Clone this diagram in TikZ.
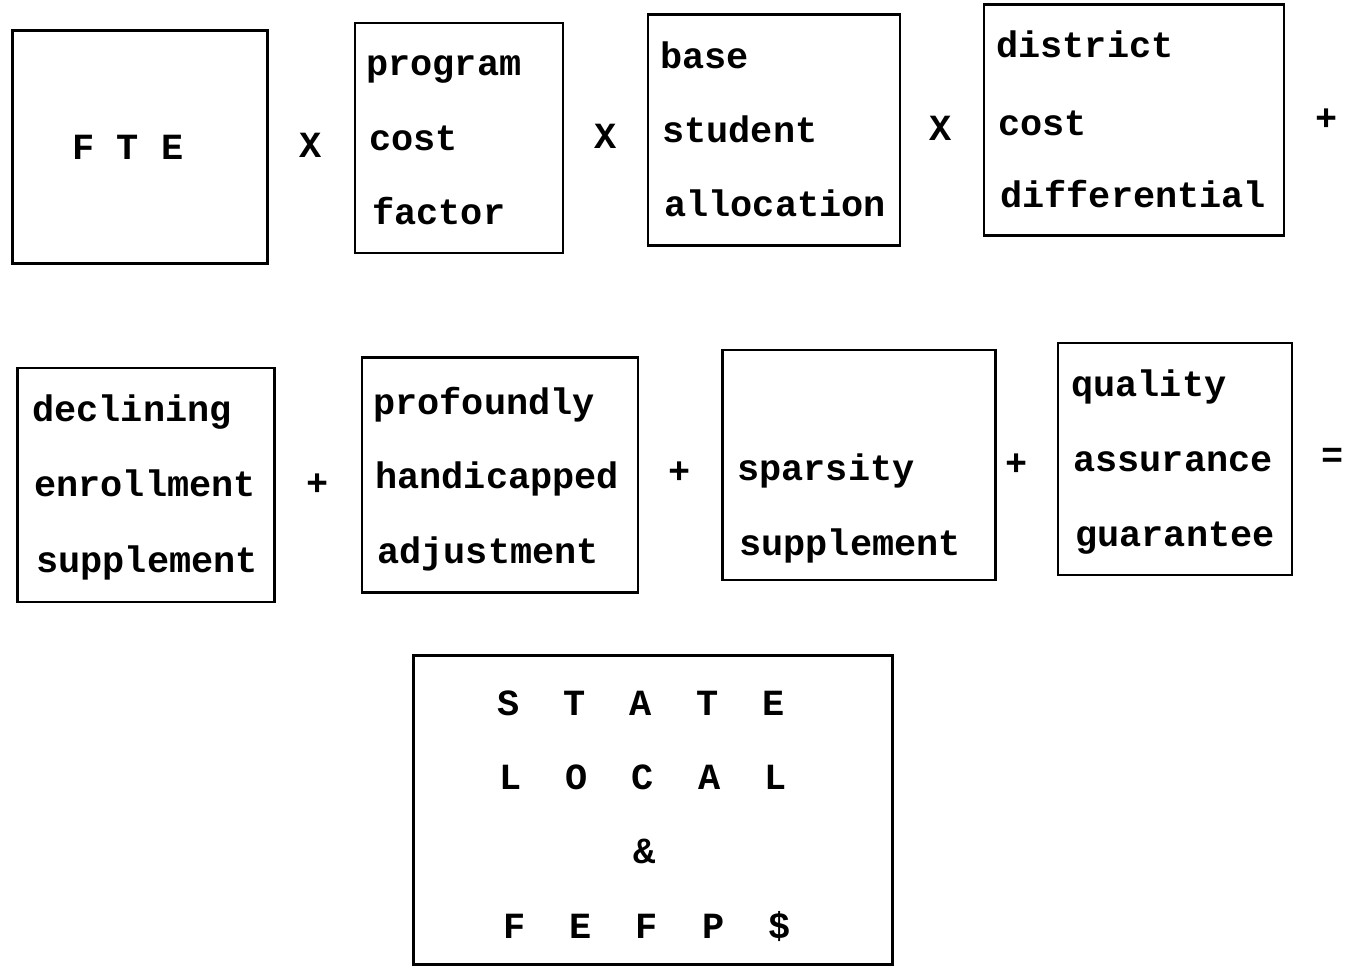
\documentclass[tikz,border=0pt]{standalone}
\usepackage{fontspec}
\setmonofont{Liberation Mono}
\begin{document}
\begin{tikzpicture}[x=0.02cm,y=-0.02cm,
  box/.style={draw, line width=1.6pt, rectangle, inner sep=0pt},
  word/.style={font=\ttfamily\bfseries\fontsize{21}{25}\selectfont, anchor=mid west, inner sep=0pt, yshift=-0.12cm},
  ctext/.style={font=\ttfamily\bfseries\fontsize{21}{25}\selectfont, anchor=mid, inner sep=0pt, yshift=-0.12cm},
  op/.style={font=\ttfamily\bfseries\fontsize{21}{25}\selectfont, inner sep=0pt}]
\useasboundingbox (0,0) rectangle (1348,968);

% first row: FTE x factor x allocation x differential +
\node[box, minimum width=5.1cm, minimum height=4.66cm] (fte) at (140,147) {};
\node[ctext] (fteT) at (128,150) {F~T~E};
\node[op] (x1) at (311,145) {X};

\node[box, minimum width=4.16cm, minimum height=4.6cm] (pcf) at (459,138) {};
\node[word] (pcf1) at (366,66) {program};
\node[word] (pcf2) at (369,141) {cost};
\node[word] (pcf3) at (372,215) {factor};
\node[op] (x2) at (606,136) {X};

\node[box, minimum width=5.04cm, minimum height=4.62cm] (bsa) at (774,130) {};
\node[word] (bsa1) at (660,59) {base};
\node[word] (bsa2) at (662,133) {student};
\node[word] (bsa3) at (664,207) {allocation};
\node[op] (x3) at (941,128) {X};

\node[box, minimum width=6.0cm, minimum height=4.62cm] (dcd) at (1134,120) {};
\node[word] (dcd1) at (996,48) {district};
\node[word] (dcd2) at (998,126) {cost};
\node[word] (dcd3) at (1000,198) {differential};
\node[op] (p0) at (1327,120) {+};

% second row: supplements and adjustments, then =
\node[box, minimum width=5.14cm, minimum height=4.68cm] (des) at (146,485) {};
\node[word] (des1) at (32,412) {declining};
\node[word] (des2) at (34,487) {enrollment};
\node[word] (des3) at (36,563) {supplement};
\node[op] (p1) at (318,485) {+};

\node[box, minimum width=5.52cm, minimum height=4.7cm] (pha) at (500,475) {};
\node[word] (pha1) at (373,405) {profoundly};
\node[word] (pha2) at (375,479) {handicapped};
\node[word] (pha3) at (377,554) {adjustment};
\node[op] (p2) at (680,473) {+};

\node[box, minimum width=5.46cm, minimum height=4.6cm] (sps) at (859,465) {};
\node[word] (sps1) at (737,471) {sparsity};
\node[word] (sps2) at (739,546) {supplement};
\node[op] (p3) at (1017,465) {+};

\node[box, minimum width=4.68cm, minimum height=4.64cm] (qag) at (1175,459) {};
\node[word] (qag1) at (1071,387) {quality};
\node[word] (qag2) at (1073,462) {assurance};
\node[word] (qag3) at (1075,537) {guarantee};
\node[op] (eq) at (1333,458) {=};

% result box
\node[box, minimum width=9.58cm, minimum height=6.18cm] (res) at (653,810) {};
\node[ctext] (res1) at (641,706) {S~~T~~A~~T~~E};
\node[ctext] (res2) at (643,780) {L~~O~~C~~A~~L};
\node[ctext] (res3) at (645,854) {\&};
\node[ctext] (res4) at (647,929) {F~~E~~F~~P~~\$};
\end{tikzpicture}
\end{document}
